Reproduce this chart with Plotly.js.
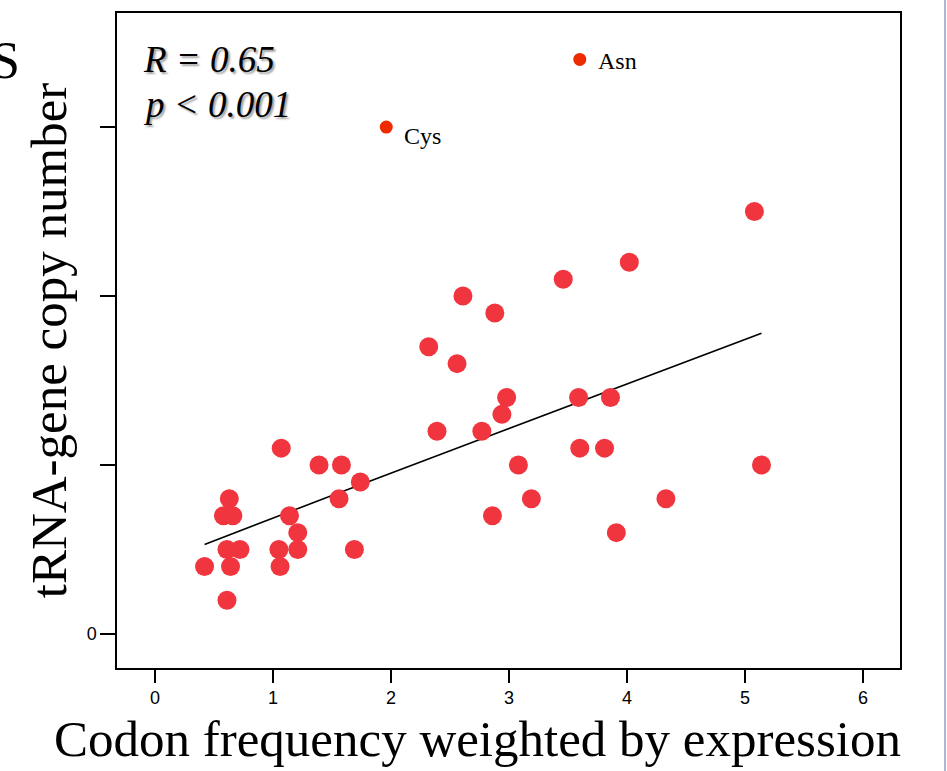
<!DOCTYPE html>
<html>
<head>
<meta charset="utf-8">
<script src="https://cdn.plot.ly/plotly-3.0.1.min.js"></script>
<style>html,body{margin:0;padding:0;background:#fff;}#chart{width:947px;height:771px;}</style>
</head>
<body>
<div id="chart"></div>
<script>
// Main scatter: codon frequency weighted by expression vs tRNA-gene copy number
const codonFreq = [0.42,0.58,0.63,0.66,0.61,0.72,0.64,0.61,1.14,1.21,1.05,1.21,1.06,1.07,
  1.39,1.58,1.74,1.56,1.69,2.61,2.88,2.32,2.56,2.98,2.94,2.39,2.77,3.08,3.19,2.86,
  4.02,3.46,3.59,3.86,3.60,3.81,4.33,3.91,5.08,5.14];
const trnaCopies = [4,7,8,7,5,5,4,2,7,6,5,5,4,11,
  10,10,9,8,5,20,19,17,16,14,13,12,12,10,8,7,
  22,21,14,14,11,11,8,6,25,10];

// Outliers labelled
const outlierNames = ["Cys","Asn"];
const outlierX = [1.96,3.60];
const outlierY = [30,34];

// Fitted trend line
const fitX = [0.42,1.5,2.77,4.0,5.14];
const fitY = [5.3,8.2,11.55,14.8,17.8];

// Axis ticks
const xTickVals = [0,1,2,3,4,5,6];
const xTickText = ["0","1","2","3","4","5","6"];
const yTickVals = [0,10,20,30];
const yTickText = ["0","","",""];

const xTitle = "Codon frequency weighted by expression";
const yTitle = "tRNA-gene copy number";

const serif = "Liberation Serif, Times New Roman, serif";
const narrow = "Liberation Sans Narrow, Arial Narrow, Liberation Sans, sans-serif";

const traces = [
  {x: fitX, y: fitY, mode: "lines", type: "scatter",
   line: {color: "#000", width: 1.6}, hoverinfo: "skip"},
  {x: codonFreq, y: trnaCopies, mode: "markers", type: "scatter",
   marker: {size: 19, color: "#f0353f", line: {width: 0}}},
  {x: outlierX, y: outlierY, mode: "markers", type: "scatter",
   marker: {size: 13, color: "#ee2a00", line: {width: 0}}}
];

const annotations = outlierNames.map((n, i) => ({
  x: outlierX[i], y: outlierY[i], xref: "x", yref: "y", text: n, showarrow: false,
  xanchor: "left", yanchor: "middle", xshift: 16, yshift: i === 0 ? -9 : -2,
  font: {family: serif, size: 24, color: "#000"}
}));

// R and p statistics (with soft shadow)
const statLines = ["R = 0.65", "p < 0.001"];
statLines.forEach((t, i) => {
  annotations.push({xref: "paper", yref: "paper", x: 0.031, y: 0.929 - i * 0.069,
    xanchor: "left", yanchor: "middle", text: t, showarrow: false,
    font: {family: serif, size: 37, color: "#000", style: "italic",
      shadow: "2px 2px 2px #a0a0a0"}});
});

// X-axis title, centred where the reference puts it
annotations.push({xref: "paper", yref: "paper", x: 0.461, y: -0.108, xanchor: "center",
  yanchor: "middle", text: xTitle, showarrow: false,
  font: {family: serif, size: 51, color: "#000"}});

// Cut-off letter from neighbouring panel
annotations.push({xref: "paper", yref: "paper", x: -0.143, y: 0.927, xanchor: "center",
  yanchor: "middle", text: "S", showarrow: false,
  font: {family: serif, size: 52, color: "#000"}});

const layout = {
  width: 947, height: 771,
  margin: {l: 117, r: 47, t: 13, b: 103},
  paper_bgcolor: "#fff", plot_bgcolor: "#fff",
  showlegend: false,
  xaxis: {
    range: [-0.322, 6.314], tickvals: xTickVals, ticktext: xTickText,
    ticks: "outside", ticklen: 13, tickwidth: 1.3, tickcolor: "#000",
    showline: true, linecolor: "#000", linewidth: 1.6, mirror: true,
    showgrid: false, zeroline: false,
    tickfont: {family: narrow, size: 18, color: "#000"}
  },
  yaxis: {
    range: [-2.01, 36.75], tickvals: yTickVals, ticktext: yTickText,
    ticks: "outside", ticklen: 15, tickwidth: 1.3, tickcolor: "#000",
    showline: true, linecolor: "#000", linewidth: 1.6, mirror: true,
    showgrid: false, zeroline: false,
    tickfont: {family: narrow, size: 18, color: "#000"},
    title: {text: yTitle, standoff: 4,
      font: {family: serif, size: 51, color: "#000"}}
  },
  annotations: annotations,
  shapes: [{type: "line", xref: "paper", yref: "paper", x0: 1.0575, x1: 1.0575, y0: -0.2, y1: 1.03,
    line: {color: "#b0b4dc", width: 2}}]
};

Plotly.newPlot("chart", traces, layout, {displayModeBar: false, staticPlot: true});
</script>
</body>
</html>
